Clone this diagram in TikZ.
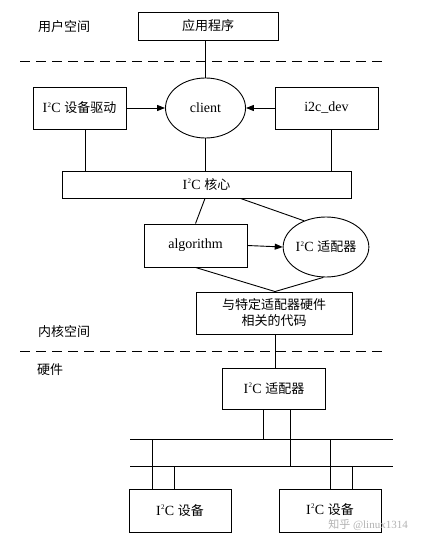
\documentclass[tikz,border=0pt]{standalone}
\usepackage{fontspec}
\setmainfont{Liberation Serif}
\newfontfamily\cjk{Noto Sans CJK SC}
\usetikzlibrary{arrows.meta,shapes.geometric}
\newcommand{\zh}[1]{{\cjk\fontsize{13}{16}\selectfont #1}}
\newcommand{\iic}{I\kern0.3pt\raisebox{0.42em}{\fontsize{7}{7}\selectfont 2}\kern0.3pt C}
\tikzset{
  box/.style={draw, rectangle, line width=0.9pt, inner sep=0pt, font=\fontsize{14}{17}\selectfont, align=center},
  oval/.style={draw, ellipse, line width=0.9pt, inner sep=0pt, font=\fontsize{14}{17}\selectfont},
  conn/.style={line width=0.9pt},
  arr/.style={line width=0.9pt, -{Triangle[length=8pt,width=6pt]}},
  sep/.style={line width=0.9pt, dash pattern=on 10pt off 6pt},
  lbl/.style={inner sep=0pt, font=\fontsize{14}{17}\selectfont},
}
\begin{document}
\begin{tikzpicture}[x=1pt,y=-1pt]
\useasboundingbox[fill=white] (0,0) rectangle (423,540);
% labels
\node[lbl] (lu) at (64,27) {\zh{用户空间}};
\node[lbl] (lk) at (64,332) {\zh{内核空间}};
\node[lbl] (lh) at (50,370) {\zh{硬件}};
% separators
\coordinate (s1l) at (20,61); \coordinate (s1r) at (382,61);
\coordinate (s2l) at (20,351); \coordinate (s2r) at (382,351);
\draw[sep] (s1l) -- (s1r);
\draw[sep] (s2l) -- (s2r);
% nodes
\node[box, minimum width=140pt, minimum height=28pt] (app) at (208,26) {\zh{应用程序}};
\node[box, minimum width=93pt, minimum height=42pt] (drv) at (79.5,108) {\iic\ \zh{设备驱动}};
\node[oval, minimum width=80pt, minimum height=60pt] (client) at (205.5,108) {client};
\node[box, minimum width=103pt, minimum height=42pt] (dev) at (326.5,108) {i2c\_dev};
\node[box, minimum width=289pt, minimum height=27pt] (core) at (206.5,184.5) {\iic\ \zh{核心}};
\node[box, minimum width=103pt, minimum height=43pt] (algo) at (195.5,245.5) {algorithm};
\node[oval, minimum width=80pt, minimum height=60pt] (adapE) at (326,247) {\iic\ \zh{适配器}};
\node[box, minimum width=156pt, minimum height=42pt, font=\fontsize{13}{17}\selectfont] (code) at (274,313) {\zh{与特定适配器硬件}\\[-1pt]\zh{相关的代码}};
\node[box, minimum width=103pt, minimum height=41pt] (hwad) at (274,388.5) {\iic\ \zh{适配器}};
\node[box, minimum width=102pt, minimum height=43pt] (dev1) at (180,510.5) {\iic\ \zh{设备}};
\node[box, minimum width=102pt, minimum height=43pt, text depth=0pt] (dev2) at (330,510.5) {\raisebox{3pt}{\iic\ \zh{设备}}};
% buses
\coordinate (b1l) at (130,439); \coordinate (b1r) at (393,439);
\coordinate (b2l) at (130,466); \coordinate (b2r) at (393,466);
\draw[conn] (b1l) -- (b1r);
\draw[conn] (b2l) -- (b2r);
% connectors
\draw[conn] (client.north) -- (client.north |- app.south);
\draw[arr] (drv.east) -- (client.west);
\draw[arr] (dev.west) -- (client.east);
\draw[conn] ([xshift=6pt]drv.south) -- ([xshift=6pt]drv.south |- core.north);
\draw[conn] ([xshift=4.5pt]dev.south) -- ([xshift=4.5pt]dev.south |- core.north);
\draw[conn] (client.south) -- (client.south |- core.north);
\draw[conn] ([xshift=-1.5pt]core.south) -- (algo.north);
\draw[conn] ([xshift=34pt]core.south) -- (adapE.130);
\draw[arr] (algo.east) -- (adapE.west);
\draw[conn] (algo.south) -- ([xshift=1pt]code.north);
\draw[conn] (adapE.265) -- ([xshift=1pt]code.north);
\draw[conn] ([xshift=1pt]code.south) -- ([xshift=1pt]hwad.north);
\draw[conn] ([xshift=-11pt]hwad.south) -- ([xshift=-11pt]hwad.south |- b1l);
\draw[conn] ([xshift=16pt]hwad.south) -- ([xshift=16pt]hwad.south |- b2l);
\draw[conn] ([xshift=-28pt]dev1.north) -- ([xshift=-28pt]dev1.north |- b1l);
\draw[conn] ([xshift=-6pt]dev1.north) -- ([xshift=-6pt]dev1.north |- b2l);
\draw[conn] (dev2.north) -- (dev2.north |- b1l);
\draw[conn] ([xshift=22pt]dev2.north) -- ([xshift=22pt]dev2.north |- b2l);
% watermark
\node[inner sep=0pt, text=black!30, font=\fontsize{11}{13}\selectfont] (wm) at (368,525) {\zh{\fontsize{11}{13}\selectfont 知乎} @linux1314};
\end{tikzpicture}
\end{document}
